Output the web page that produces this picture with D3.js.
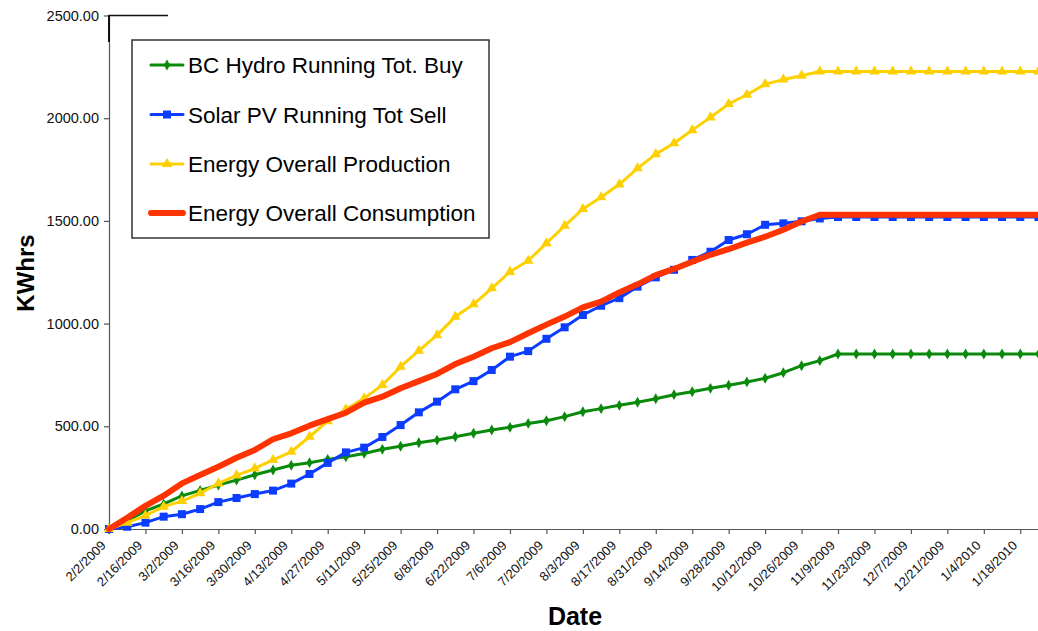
<!DOCTYPE html>
<html>
<head>
<meta charset="utf-8">
<script src="https://cdn.jsdelivr.net/npm/d3@7"></script>
<style>
  html, body { margin: 0; padding: 0; background: #fff; }
  svg { display: block; font-family: "Liberation Sans", Arial, sans-serif; }
</style>
</head>
<body>
<svg id="chart" width="1038" height="631"></svg>
<script>
// ---------- data ----------
const dates = [
  "2/2/2009","2/9/2009","2/16/2009","2/23/2009","3/2/2009","3/9/2009","3/16/2009","3/23/2009","3/30/2009",
  "4/6/2009","4/13/2009","4/20/2009","4/27/2009","5/4/2009","5/11/2009","5/18/2009","5/25/2009",
  "6/1/2009","6/8/2009","6/15/2009","6/22/2009","6/29/2009","7/6/2009","7/13/2009","7/20/2009","7/27/2009",
  "8/3/2009","8/10/2009","8/17/2009","8/24/2009","8/31/2009","9/7/2009","9/14/2009","9/21/2009","9/28/2009",
  "10/5/2009","10/12/2009","10/19/2009","10/26/2009","11/2/2009","11/9/2009","11/16/2009","11/23/2009","11/30/2009",
  "12/7/2009","12/14/2009","12/21/2009","12/28/2009","1/4/2010","1/11/2010","1/18/2010","1/25/2010"
];
const hydroBuy = [0,40,88,122,161,188,214,238,264,287,310,323,339,352,368,388,403,420,433,449,466,482,495,514,527,
  547,571,586,602,617,634,654,668,685,700,716,734,761,795,820,852,852,852,852,852,852,852,852,852,852,852,852];
const solarSell = [0,11,31,60,72,97,131,151,170,187,221,268,322,373,396,448,506,568,620,680,720,774,839,866,926,
  982,1042,1087,1124,1180,1225,1262,1310,1350,1407,1435,1481,1488,1498,1512,1519,1519,1519,1519,1519,1519,1519,1519,1519,1519,1519,1519];
const production = [0,31,65,109,136,174,222,261,295,336,376,449,525,583,636,701,790,868,944,1033,1094,1172,1252,1306,1391,
  1476,1558,1615,1678,1756,1825,1878,1942,2004,2069,2114,2166,2188,2207,2227,2227,2227,2227,2227,2227,2227,2227,2227,2227,2227,2227,2227];
const consumption = [0,55,113,162,222,263,303,347,385,437,466,503,535,566,615,644,685,720,755,803,839,880,910,953,995,
  1034,1079,1107,1152,1191,1236,1266,1301,1335,1362,1394,1423,1457,1497,1530,1530,1530,1530,1530,1530,1530,1530,1530,1530,1530,1530,1530];
const seriesNames = ["BC Hydro Running Tot. Buy","Solar PV Running Tot Sell","Energy Overall Production","Energy Overall Consumption"];
const yTickValues = [0,500,1000,1500,2000,2500];
const xTickLabels = ["2/2/2009","2/16/2009","3/2/2009","3/16/2009","3/30/2009","4/13/2009","4/27/2009","5/11/2009","5/25/2009",
  "6/8/2009","6/22/2009","7/6/2009","7/20/2009","8/3/2009","8/17/2009","8/31/2009","9/14/2009","9/28/2009",
  "10/12/2009","10/26/2009","11/9/2009","11/23/2009","12/7/2009","12/21/2009","1/4/2010","1/18/2010"];
const xTitle = "Date";
const yTitle = "KWhrs";

// ---------- setup ----------
const parse = s => { const [m,d,y] = s.split("/").map(Number); return new Date(Date.UTC(y, m-1, d)); };
const svg = d3.select("#chart");
svg.append("rect").attr("width",1038).attr("height",631).attr("fill","#fff");

const x = d3.scaleUtc().domain([parse(dates[0]), parse(dates[dates.length-1])]).range([109, 1038.5]);
const y = d3.scaleLinear().domain([0, 2500]).range([529, 15.5]);

// ---------- axes ----------
const yAxis = svg.append("g").attr("transform","translate(109,0)")
  .call(d3.axisLeft(y).tickValues(yTickValues).tickFormat(d3.format(".2f")).tickSize(5).tickSizeOuter(0).tickPadding(5));
yAxis.select(".domain").attr("stroke","#555").attr("stroke-width",1.2);
yAxis.selectAll(".tick line").attr("stroke","#555").attr("stroke-width",1.2);
yAxis.selectAll(".tick text").attr("font-size","14.5px").attr("fill","#111").attr("font-family","Liberation Sans, Arial, sans-serif");

const xAxis = svg.append("g").attr("transform","translate(0,529)")
  .call(d3.axisBottom(x).tickValues(xTickLabels.map(parse)).tickFormat((d,i)=>xTickLabels[i]).tickSize(5).tickSizeOuter(0));
xAxis.select(".domain").attr("stroke","#555").attr("stroke-width",1.2);
xAxis.selectAll(".tick line").attr("stroke","#555").attr("stroke-width",1.2);
xAxis.selectAll(".tick text")
  .attr("font-size","13px").attr("fill","#111").attr("font-family","Liberation Sans, Arial, sans-serif")
  .attr("text-anchor","end").attr("x",0).attr("y",0).attr("dy","0.35em")
  .attr("transform","translate(-6,14) rotate(-45)");

// top-left stub lines
svg.append("line").attr("x1",109).attr("x2",168).attr("y1",15.5).attr("y2",15.5).attr("stroke","#111").attr("stroke-width",1.5);
svg.append("line").attr("x1",109).attr("x2",109).attr("y1",15).attr("y2",42).attr("stroke","#111").attr("stroke-width",2);

// titles
svg.append("text").attr("x",575).attr("y",625).attr("text-anchor","middle")
  .attr("font-size","25px").attr("font-weight","bold").attr("fill","#000").text(xTitle);
svg.append("text").attr("transform","translate(34,273) rotate(-90)").attr("text-anchor","middle")
  .attr("font-size","24px").attr("font-weight","bold").attr("fill","#000").text(yTitle);

// ---------- series ----------
const series = [
  {name: seriesNames[0], values: hydroBuy,   color:"#0A8A0A", width:3, symbol:d3.symbolDiamond,  size:34},
  {name: seriesNames[1], values: solarSell,  color:"#0B3CFF", width:3, symbol:d3.symbolSquare,   size:64},
  {name: seriesNames[2], values: production, color:"#FFD000", width:3, symbol:d3.symbolTriangle, size:48},
  {name: seriesNames[3], values: consumption,color:"#FF3300", width:6, symbol:d3.symbolSquare,   size:10}
];
const line = d3.line().x(d=>x(d.date)).y(d=>y(d.v));
series.forEach(s => {
  const pts = dates.map((dt,i)=>({date: parse(dt), v: s.values[i]}));
  const g = svg.append("g");
  g.append("path").datum(pts).attr("d", line).attr("fill","none")
    .attr("stroke", s.color).attr("stroke-width", s.width).attr("stroke-linejoin","round").attr("stroke-linecap","round");
  g.selectAll("path.m").data(pts).join("path").attr("class","m")
    .attr("transform", d=>`translate(${x(d.date)},${y(d.v)})`)
    .attr("d", d3.symbol().type(s.symbol).size(s.size)).attr("fill", s.color);
});

// ---------- legend ----------
const lg = svg.append("g");
lg.append("rect").attr("x",132).attr("y",40).attr("width",357).attr("height",198)
  .attr("fill","#fff").attr("stroke","#333").attr("stroke-width",1.5);
const rowY = [65, 114.5, 164, 213];
series.forEach((s,i) => {
  lg.append("line").attr("x1",151).attr("x2",183).attr("y1",rowY[i]).attr("y2",rowY[i])
    .attr("stroke",s.color).attr("stroke-width", s.width).attr("stroke-linecap","round");
  if (i < 3) lg.append("path").attr("transform",`translate(167,${rowY[i]})`)
    .attr("d", d3.symbol().type(s.symbol).size(s.size)).attr("fill", s.color);
  lg.append("text").attr("x",188).attr("y",rowY[i]).attr("dy","0.36em")
    .attr("font-size","22.5px").attr("fill","#000").text(s.name);
});
</script>
</body>
</html>
